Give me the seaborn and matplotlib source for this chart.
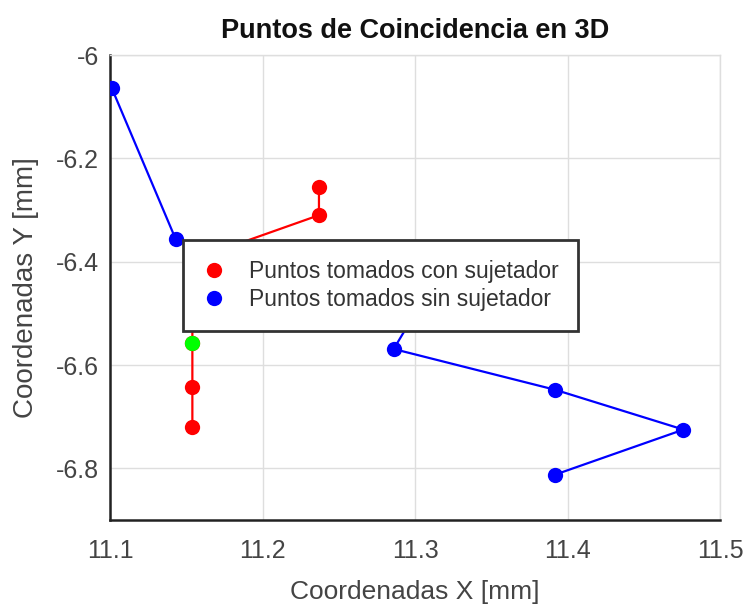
import matplotlib
matplotlib.use("Agg")
import matplotlib.pyplot as plt
import seaborn as sns
from matplotlib.lines import Line2D

# Data
red_x = [11.237, 11.237, 11.169, 11.154, 11.154, 11.154, 11.154]
red_y = [-6.256, -6.310, -6.381, -6.470, -6.558, -6.642, -6.719]
green_x = [11.154]
green_y = [-6.558]
blue_x = [11.101, 11.143, 11.220, 11.300, 11.286, 11.392, 11.476, 11.392]
blue_y = [-6.063, -6.356, -6.430, -6.500, -6.569, -6.648, -6.725, -6.812]
legend_labels = ["Puntos tomados con sujetador", "Puntos tomados sin sujetador"]
x_ticks = [11.1, 11.2, 11.3, 11.4, 11.5]
y_ticks = [-6.0, -6.2, -6.4, -6.6, -6.8]
y_tick_labels = ["-6", "-6.2", "-6.4", "-6.6", "-6.8"]

sns.set_style("white")
plt.rcParams['font.family'] = ['Liberation Sans', 'DejaVu Sans']

fig = plt.figure(figsize=(7.54, 6.08), dpi=100)
ax = fig.add_axes([0.1459, 0.1447, 0.8091, 0.7648])

sns.lineplot(x=red_x, y=red_y, sort=False, estimator=None, color='#ff0000', marker='o',
             markersize=11, markeredgewidth=0, linewidth=1.6, ax=ax, zorder=3)
sns.lineplot(x=blue_x, y=blue_y, sort=False, estimator=None, color='#0000ff', marker='o',
             markersize=11, markeredgewidth=0, linewidth=1.6, ax=ax, zorder=3)
sns.scatterplot(x=green_x, y=green_y, color='#00ff00', s=121, linewidth=0, ax=ax, zorder=4)

ax.set_xlim(11.1, 11.5)
ax.set_ylim(-6.9, -6.0)
ax.set_xticks(x_ticks)
ax.set_xticklabels([f"{v:.1f}" for v in x_ticks])
ax.set_yticks(y_ticks)
ax.set_yticklabels(y_tick_labels)
ax.grid(True, color='#dedede', linewidth=1.0)
ax.set_axisbelow(True)
for s in ['top', 'right']:
    ax.spines[s].set_color('#dedede')
    ax.spines[s].set_linewidth(1.0)
for s in ['left', 'bottom']:
    ax.spines[s].set_color('#222222')
    ax.spines[s].set_linewidth(1.8)
ax.tick_params(axis='both', direction='in', length=5, width=1.2, colors='#222222',
               labelcolor='#444444', labelsize=18)
ax.tick_params(axis='x', pad=14)
ax.tick_params(axis='y', pad=8)

ax.set_title("Puntos de Coincidencia en 3D", fontsize=19.5, fontweight='bold',
             color='#111111', pad=12)
ax.set_xlabel("Coordenadas X [mm]", fontsize=19, color='#444444', labelpad=12)
ax.set_ylabel("Coordenadas Y [mm]", fontsize=20, color='#444444', labelpad=12)

handles = [Line2D([], [], linestyle='none', marker='o', markersize=11, color='#ff0000', markeredgewidth=0),
           Line2D([], [], linestyle='none', marker='o', markersize=11, color='#0000ff', markeredgewidth=0)]
leg = ax.legend(handles, legend_labels, loc='upper left', bbox_to_anchor=(0.12, 0.602),
                frameon=True, fancybox=False, framealpha=1, edgecolor='#333333',
                fontsize=16.5, handletextpad=1.0, borderpad=0.85, labelspacing=0.25,
                handlelength=1.0, borderaxespad=0)
leg.get_frame().set_linewidth(2)
leg.set_zorder(10)
for t in leg.get_texts():
    t.set_color('#333333')

fig.savefig("out.png", dpi=100)
